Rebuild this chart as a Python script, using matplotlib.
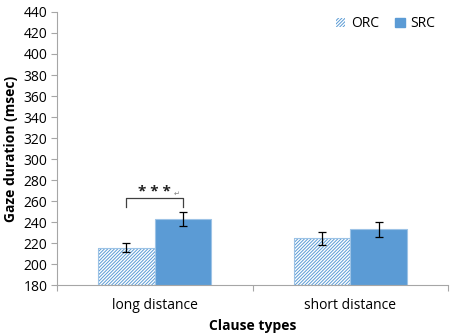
import numpy as np
import matplotlib.pyplot as plt
from matplotlib.patches import Patch

plt.rcParams['font.family'] = ['Open Sans', 'DejaVu Sans']
plt.rcParams['hatch.linewidth'] = 0.7

categories = ['long distance', 'short distance']
orc_means = [215.5, 224.5]
src_means = [243, 233]
orc_err = [4.5, 6]
src_err = [6.7, 6.8]

blue = '#5B9BD5'
grid_grey = '#A6A6A6'

fig = plt.figure(figsize=(4.54, 3.33), dpi=100)
ax = fig.add_axes([0.1256, 0.144, 0.8614, 0.820])

x = np.arange(len(categories))
w = 0.29
ax.bar(x - w / 2, np.array(orc_means) - 180, w, bottom=180, color='white',
       edgecolor=blue, hatch='//////////', linewidth=0)
ax.bar(x - w / 2, np.array(orc_means) - 180, w, bottom=180, fill=False,
       edgecolor='#9DC3E6', linewidth=0.8)
ax.bar(x + w / 2, np.array(src_means) - 180, w, bottom=180, color=blue,
       edgecolor='#9DC3E6', linewidth=0.8)
ax.errorbar(x - w / 2, orc_means, yerr=orc_err, fmt='none', ecolor='black',
            elinewidth=0.9, capsize=3, capthick=0.9)
ax.errorbar(x + w / 2, src_means, yerr=src_err, fmt='none', ecolor='black',
            elinewidth=0.9, capsize=3, capthick=0.9)

# significance bracket
ax.plot([-w / 2, -w / 2, w / 2, w / 2], [254.6, 262.6, 262.6, 254.6],
        color='#404040', lw=0.9)
ax.text(0, 268.5, '* * *', ha='center', va='center', fontsize=11,
        fontweight='bold', color='#222222')
ax.text(0.095, 263.5, '\u21b5', ha='left', va='bottom', fontsize=5, color='#808080')

ax.set_xlim(-0.5, 1.5)
ax.set_ylim(180, 440)
ax.set_yticks(np.arange(180, 441, 20))
ax.set_xticks(x)
ax.set_xticklabels(categories, fontsize=10)
ax.set_xticks([-0.5, 0.5, 1.5], minor=True)
ax.tick_params(axis='x', which='major', length=0, pad=9)
ax.tick_params(axis='x', which='minor', length=4, color=grid_grey, width=0.8)
ax.tick_params(axis='y', length=4, color=grid_grey, width=0.8, labelsize=10, pad=3)

for s in ['top', 'right']:
    ax.spines[s].set_visible(False)
for s in ['left', 'bottom']:
    ax.spines[s].set_color(grid_grey)
    ax.spines[s].set_linewidth(0.8)

ax.set_ylabel('Gaze duration (msec)', fontsize=10, fontweight='bold', labelpad=4)
ax.set_xlabel('Clause types', fontsize=10, fontweight='bold', labelpad=5)

handles = [Patch(facecolor='white', edgecolor=blue, hatch='//////////', linewidth=0),
           Patch(facecolor=blue, edgecolor=blue)]
ax.legend(handles, ['ORC', 'SRC'], loc='upper right', ncol=2, frameon=False,
          fontsize=10, handlelength=0.7, handleheight=0.7, handletextpad=0.4,
          columnspacing=1.2, bbox_to_anchor=(1.0, 1.03))

fig.savefig('out.png', dpi=100)
